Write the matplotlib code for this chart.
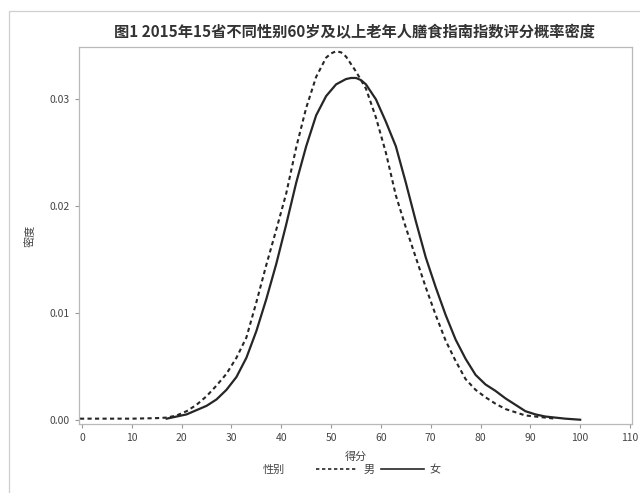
import matplotlib
matplotlib.use("Agg")
import matplotlib.pyplot as plt
from matplotlib.lines import Line2D
from matplotlib.patches import Rectangle

plt.rcParams["font.family"] = ["Noto Sans CJK SC", "DejaVu Sans"]

# 男 (dashed)
male_x = [-0.4, 5, 10, 15, 17, 19, 21, 23, 25, 27, 29, 31, 33, 35, 37, 39, 41, 43, 45,
          47, 49, 50, 51, 52, 53, 55, 57, 59, 61, 63, 65, 67, 69, 71, 73, 75, 77, 79,
          81, 83, 85, 87, 89, 91, 93, 95]
male_y = [0.0001, 0.0001, 0.0001, 0.00015, 0.0002, 0.0004, 0.0008, 0.0014, 0.0022,
          0.0032, 0.0043, 0.0058, 0.0077, 0.0110, 0.0145, 0.0178, 0.0212, 0.0255,
          0.0292, 0.0321, 0.0339, 0.0343, 0.0345, 0.0344, 0.0340, 0.0326, 0.0310,
          0.0283, 0.0250, 0.0210, 0.0180, 0.0152, 0.0124, 0.0098, 0.0074, 0.0055,
          0.0038, 0.0028, 0.0021, 0.0015, 0.0010, 0.0007, 0.0004, 0.0003, 0.0002,
          0.0001]

# 女 (solid)
female_x = [17, 19, 21, 23, 25, 27, 29, 31, 33, 35, 37, 39, 41, 43, 45, 47, 49, 51, 53,
            54, 55, 56, 57, 59, 61, 63, 65, 67, 69, 71, 73, 75, 77, 79, 81, 83, 85, 87,
            89, 91, 93, 95, 97, 100]
female_y = [0.0001, 0.0003, 0.0005, 0.0009, 0.0013, 0.0019, 0.0028, 0.0040, 0.0058,
            0.0083, 0.0113, 0.0146, 0.0183, 0.0222, 0.0256, 0.0285, 0.0303, 0.0314,
            0.0319, 0.0320, 0.0320, 0.0318, 0.0314, 0.0300, 0.0279, 0.0256, 0.0222,
            0.0186, 0.0152, 0.0124, 0.0098, 0.0075, 0.0057, 0.0042, 0.0033, 0.0027,
            0.0020, 0.0014, 0.0008, 0.0005, 0.0003, 0.0002, 0.0001, 0.0000]

x_ticks = list(range(0, 111, 10))
y_ticks = [0.00, 0.01, 0.02, 0.03]

fig = plt.figure(figsize=(6.4, 4.93), dpi=100)
ax = fig.add_axes([79 / 640, 1 - 424 / 493, (632 - 79) / 640, (424 - 47) / 493])

line_col = "#262626"
ax.plot(male_x, male_y, color=line_col, lw=1.5, dashes=(2, 1.6))
ax.plot(female_x, female_y, color=line_col, lw=1.6)

ax.set_xlim(-0.6, 110.4)
ax.set_ylim(-0.0004, 0.0349)
ax.set_xticks(x_ticks)
ax.set_yticks(y_ticks)
ax.set_yticklabels([f"{v:.2f}" for v in y_ticks])
ax.tick_params(labelsize=7.5, colors="#9a9a9a", labelcolor="#444444", length=3, width=0.8)
for s in ax.spines.values():
    s.set_color("#b8b8b8")
    s.set_linewidth(0.9)

ax.set_xlabel("得分", fontsize=8, color="#444444", labelpad=6)
ax.set_ylabel("密度", fontsize=8, color="#444444")
ax.yaxis.set_label_coords(-0.078, 0.5)
fig.text(355 / 640, 1 - 32 / 493, "图1 2015年15省不同性别60岁及以上老年人膳食指南指数评分概率密度",
         ha="center", va="center", fontsize=11, fontweight="bold", color="#333333")

# outer frame
fig.patches.append(Rectangle((9 / 640, -0.1), 1.0, 1.1 - 11 / 493, transform=fig.transFigure,
                             fill=False, edgecolor="#cfcfcf", lw=0.9))

# legend
fig.text(274 / 640, 1 - 470 / 493, "性别", ha="center", va="center", fontsize=8, color="#444444")
handles = [Line2D([], [], color=line_col, lw=1.2, dashes=(2, 1.6)),
           Line2D([], [], color=line_col, lw=1.2)]
fig.legend(handles, ["男", "女"], loc="center", bbox_to_anchor=(378 / 640, 1 - 470 / 493),
           ncol=2, frameon=False, fontsize=8, handlelength=3.8, handletextpad=0.5,
           columnspacing=0.6, labelcolor="#444444")

fig.savefig("out.png", dpi=100)
